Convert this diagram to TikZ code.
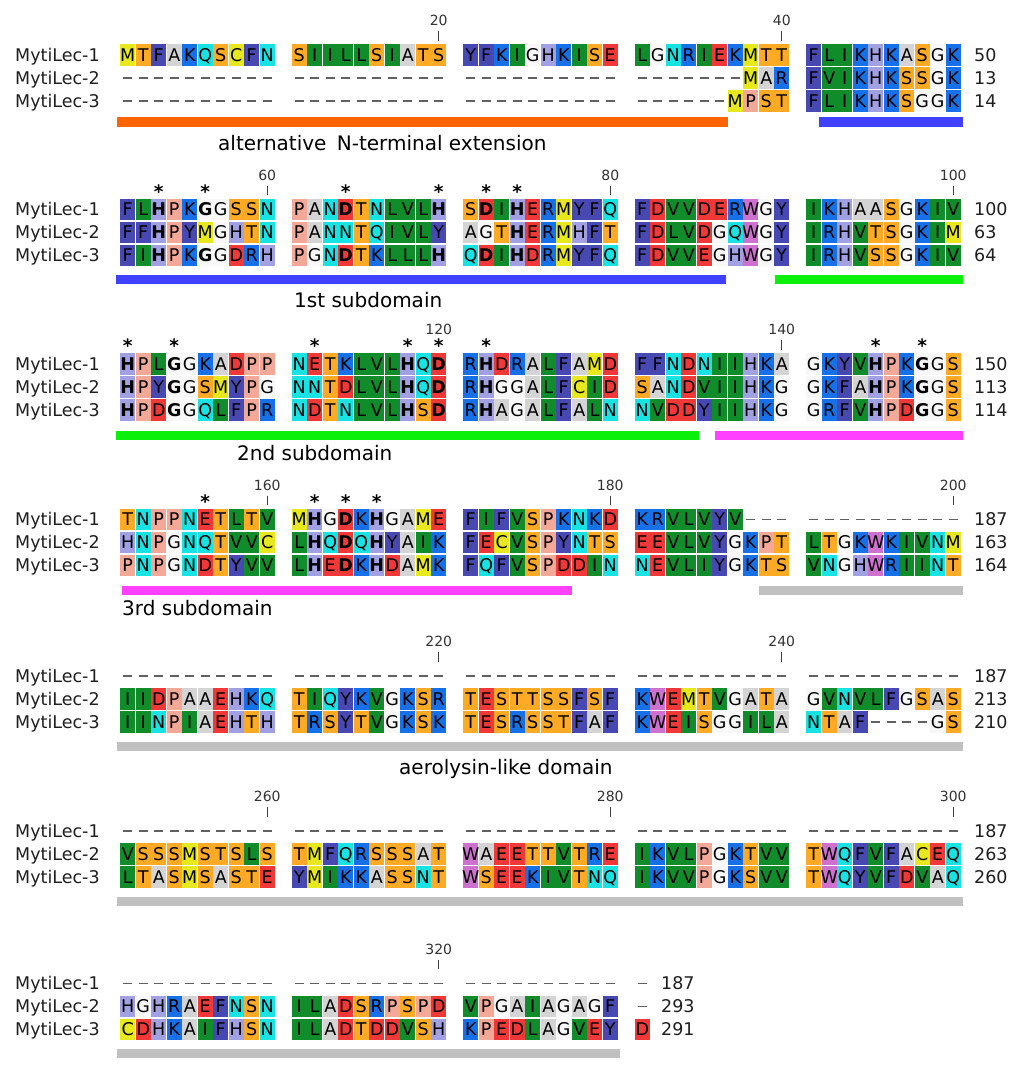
\documentclass[tikz,border=0pt]{standalone}
\usepackage{fontspec}
\setmainfont{DejaVu Sans}
\usetikzlibrary{calc}
% residue colours
\definecolor{cgreen}{RGB}{16,140,42}
\definecolor{cindigo}{RGB}{72,72,178}
\definecolor{cblue}{RGB}{22,112,232}
\definecolor{clav}{RGB}{160,160,226}
\definecolor{cred}{RGB}{240,56,56}
\definecolor{corange}{RGB}{255,170,36}
\definecolor{cyellow}{RGB}{232,232,30}
\definecolor{ccyan}{RGB}{24,226,226}
\definecolor{csalmon}{RGB}{244,168,152}
\definecolor{cgray}{RGB}{212,212,212}
\definecolor{cmag}{RGB}{206,112,206}
\definecolor{cwhite}{RGB}{248,248,248}
\colorlet{resI}{cgreen}\colorlet{resL}{cgreen}\colorlet{resV}{cgreen}
\colorlet{resF}{cindigo}\colorlet{resY}{cindigo}
\colorlet{resK}{cblue}\colorlet{resR}{cblue}
\colorlet{resH}{clav}
\colorlet{resD}{cred}\colorlet{resE}{cred}
\colorlet{resS}{corange}\colorlet{resT}{corange}
\colorlet{resM}{cyellow}\colorlet{resC}{cyellow}
\colorlet{resN}{ccyan}\colorlet{resQ}{ccyan}
\colorlet{resP}{csalmon}
\colorlet{resA}{cgray}
\colorlet{resW}{cmag}
\colorlet{resG}{cwhite}
% bar colours
\definecolor{barorange}{RGB}{255,100,0}
\definecolor{barblue}{RGB}{64,64,255}
\definecolor{bargreen}{RGB}{10,240,10}
\definecolor{barmag}{RGB}{255,64,255}
\definecolor{bargray}{RGB}{192,192,192}
\newcommand\resfont{\fontsize{17.5}{19}\selectfont}
\newcount\rescol
\makeatletter
\def\seqline#1#2#3{\global\rescol=0 \def\rowy{#1}\def\rowtag{#2}\parseres#3\relax}
\def\parseres#1{%
  \ifx\relax#1\let\next@res\relax
  \else\ifx!#1\let\next@res\parsebold
  \else\def\next@res{\placeres{#1}{}\parseres}%
  \fi\fi\next@res}
\def\parsebold#1{\placeres{#1}{\bfseries}\parseres}
\def\tmpdash{-}
\def\placeres#1#2{%
  \pgfmathsetmacro\resx{127.75+int(\the\rescol/10)*171.5+mod(\the\rescol,10)*15.5}%
  \edef\resname{r\rowtag c\the\rescol}%
  \def\tmpc{#1}%
  \ifx\tmpc\tmpdash
    \draw[gapdash] (\resx-4.4,\rowy) -- (\resx+4.4,\rowy);
  \else
    \fill[fill=res#1] (\resx-7.3,\rowy-10.6) rectangle (\resx+7.3,\rowy+10.6);
    \node[restext,font=\resfont#2] (\resname) at (\resx,\rowy+6.4) {#1};
  \fi
  \global\advance\rescol by 1\relax}
\makeatother
\newcommand\rowlabels[6]{%
  \pgfmathsetmacro\ya{#1+6.4}\pgfmathsetmacro\yb{#1+29.4}\pgfmathsetmacro\yc{#1+52.4}%
  \node[rowlab] (#2-l1) at (15,\ya) {MytiLec-1};
  \node[rowlab] (#2-l2) at (15,\yb) {MytiLec-2};
  \node[rowlab] (#2-l3) at (15,\yc) {MytiLec-3};
  \node[rowlab] (#2-n1) at (#6,\ya) {#3};
  \node[rowlab] (#2-n2) at (#6,\yb) {#4};
  \node[rowlab] (#2-n3) at (#6,\yc) {#5};}
\newcommand\colx[1]{\pgfmathsetmacro\tx{127.75+int(#1/10)*171.5+mod(#1,10)*15.5}}
\newcommand\tickmark[4]{\colx{#2}%
  \node[ticklab] (#4) at (\tx,#1-29.4) {#3};
  \draw[tickline] (\tx,#1-24) -- (\tx,#1-14.5);}
\newcommand\ticklabonly[4]{\colx{#2}%
  \node[ticklab] (#4) at (\tx,#1-29.4) {#3};}
\newcommand\astmark[3]{\colx{#2}%
  \node[astk] (#3) at (\tx,#1-11.2) {*};}
\begin{document}
\begin{tikzpicture}[x=1pt,y=-1pt,
  restext/.style={anchor=base,inner sep=0pt,text=black},
  gapdash/.style={draw=black!62,line width=1.3pt},
  rowlab/.style={anchor=base west,inner sep=0pt,font=\fontsize{17.5}{20}\selectfont,text=black!88},
  ticklab/.style={anchor=base,inner sep=0pt,font=\fontsize{14}{15}\selectfont,text=black!80},
  tickline/.style={draw=black!75,line width=1.2pt},
  astk/.style={anchor=base,inner sep=0pt,font=\bfseries\fontsize{18.5}{20}\selectfont},
  domlab/.style={anchor=base west,inner sep=0pt,font=\fontsize{20}{22}\selectfont,text=black}]
\useasboundingbox (0,0) rectangle (1024,1072);
\fill[white] (0,0) rectangle (1024,1072);
% ---------------- block 1
\tickmark{55}{19}{20}{t20}
\tickmark{55}{39}{40}{t40}
\seqline{55}{a1}{MTFAKQSCFN SIILLSIATS YFKIGHKISE LGNRIEKMTT FLIKHKASGK}
\seqline{78}{a2}{---------- ---------- ---------- -------MAR FVIKHKSSGK}
\seqline{101}{a3}{---------- ---------- ---------- ------MPST FLIKHKSGGK}
\rowlabels{55}{a}{50}{13}{14}{974}
\fill[barorange] (117,117) rectangle (728,127);
\fill[barblue] (819,117) rectangle (963,127);
\node[domlab] (dom0) at (218,150) {alternative\hspace{4pt} N-terminal extension};
% ---------------- block 2
\tickmark{209.5}{9}{60}{t60}
\tickmark{209.5}{29}{80}{t80}
\tickmark{209.5}{49}{100}{t100}
\astmark{209.5}{2}{s2a}\astmark{209.5}{5}{s2b}\astmark{209.5}{13}{s2c}
\astmark{209.5}{19}{s2d}\astmark{209.5}{21}{s2e}\astmark{209.5}{23}{s2f}
\seqline{209.5}{b1}{FL!HPK!GGSSN PAN!DTNLVL!H S!DI!HERMYFQ FDVVDERWGY IKHAASGKIV}
\seqline{232.5}{b2}{FF!HPYMGHTN PANNTQIVLY AGT!HERMHFT FDLVDGQWGY IRHVTSGKIM}
\seqline{255.5}{b3}{FI!HPK!GGDRH PGN!DTKLLL!H Q!DI!HDRMYFQ FDVVEGHWGY IRHVSSGKIV}
\rowlabels{209.5}{b}{100}{63}{64}{974}
\fill[barblue] (116,275) rectangle (726,284);
\fill[bargreen] (775,275) rectangle (963,284);
\node[domlab] (dom1) at (294,307) {1st subdomain};
% ---------------- block 3
\ticklabonly{364}{19}{120}{t120}
\tickmark{364}{39}{140}{t140}
\astmark{364}{0}{s3a}\astmark{364}{3}{s3b}\astmark{364}{11}{s3c}
\astmark{364}{17}{s3d}\astmark{364}{19}{s3e}\astmark{364}{21}{s3f}
\astmark{364}{44}{s3g}\astmark{364}{47}{s3h}
\seqline{364}{c1}{!HPL!GGKADPP NETKLVL!HQ!D R!HDRALFAMD FFNDNIIHKA GKYV!HPK!GGS}
\seqline{387}{c2}{!HPY!GGSMYPG NNTDLVL!HQ!D R!HGGALFCID SANDVIIHKG GKFA!HPK!GGS}
\seqline{410}{c3}{!HPD!GGQLFPR NDTNLVL!HS!D R!HAGALFALN NVDDYIIHKG GRFV!HPD!GGS}
\rowlabels{364}{c}{150}{113}{114}{974}
\fill[bargreen] (116,431) rectangle (699,440);
\fill[barmag] (715,431) rectangle (963,440);
\node[domlab] (dom2) at (237,460) {2nd subdomain};
% ---------------- block 4
\tickmark{519.5}{9}{160}{t160}
\tickmark{519.5}{29}{180}{t180}
\tickmark{519.5}{49}{200}{t200}
\astmark{519.5}{5}{s4a}\astmark{519.5}{11}{s4b}\astmark{519.5}{13}{s4c}\astmark{519.5}{15}{s4d}
\seqline{519.5}{d1}{TNPPNETLTV M!HG!DK!HGAME FIFVSPKNKD KRVLVYV--- ----------}
\seqline{542.5}{d2}{HNPGNQTVVC L!HQ!DQ!HYAIK FECVSPYNTS EEVLVYGKPT LTGKWKIVNM}
\seqline{565.5}{d3}{PNPGNDTYVV L!HE!DK!HDAMK FQFVSPDDIN NEVLIYGKTS VNGHWRIINT}
\rowlabels{519.5}{d}{187}{163}{164}{974}
\fill[barmag] (122,586) rectangle (572,595);
\fill[bargray] (759,586) rectangle (963,595);
\node[domlab] (dom3) at (122,615) {3rd subdomain};
% ---------------- block 5
\tickmark{676}{19}{220}{t220}
\tickmark{676}{39}{240}{t240}
\seqline{676}{e1}{---------- ---------- ---------- ---------- ----------}
\seqline{699}{e2}{IIDPAAEHKQ TIQYKVGKSR TESTTSSFSF KWEMTVGATA GVNVLFGSAS}
\seqline{722}{e3}{IINPIAEHTH TRSYTVGKSK TESRSSTFAF KWEISGGILA NTAF----GS}
\rowlabels{676}{e}{187}{213}{210}{974}
\fill[bargray] (117,742) rectangle (963,751);
\node[domlab] (dom4) at (399,774) {aerolysin-like domain};
% ---------------- block 6
\tickmark{831}{9}{260}{t260}
\tickmark{831}{29}{280}{t280}
\tickmark{831}{49}{300}{t300}
\seqline{831}{f1}{---------- ---------- ---------- ---------- ----------}
\seqline{854}{f2}{VSSSMSTSLS TMFQRSSSAT WAEETTVTRE IKVLPGKTVV TWQFVFACEQ}
\seqline{877}{f3}{LTASMSASTE YMIKKASSNT WSEEKIVTNQ IKVVPGKSVV TWQYVFDVAQ}
\rowlabels{831}{f}{187}{263}{260}{974}
\fill[bargray] (117,897) rectangle (963,906);
% ---------------- block 7
\tickmark{983.5}{19}{320}{t320}
\seqline{983.5}{g1}{---------- ---------- ---------- -}
\seqline{1006.5}{g2}{HGHRAEFNSN ILADSRPSPD VPGAIAGAGF -}
\seqline{1029.5}{g3}{CDHKAIFHSN ILADTDDVSH KPEDLAGVEY D}
\rowlabels{983.5}{g}{187}{293}{291}{661}
\fill[bargray] (117,1049) rectangle (620,1058);
\end{tikzpicture}
\end{document}
